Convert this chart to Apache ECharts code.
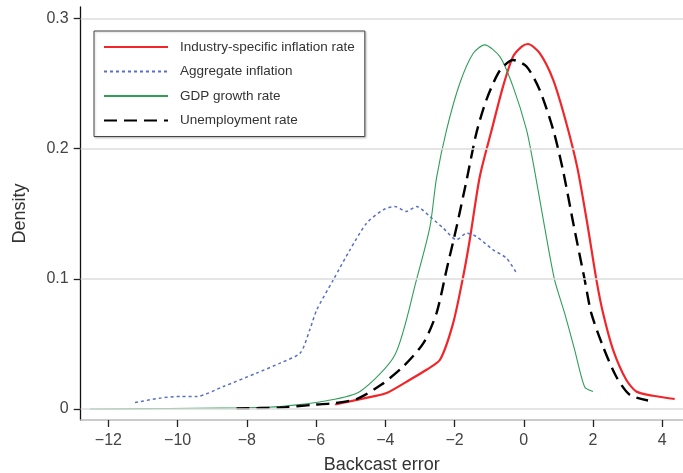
<!DOCTYPE html>
<html>
<head>
<meta charset="utf-8">
<script src="https://cdn.jsdelivr.net/npm/echarts@6/dist/echarts.min.js"></script>
<style>
  html, body { margin: 0; padding: 0; background: #fff; }
  #chart { width: 683px; height: 473px; }
</style>
</head>
<body>
<div id="chart"></div>
<script>
// Kernel density estimates of backcast errors, one [error, density] list per predictor
const seriesNames = [
  'Industry-specific inflation rate',
  'Aggregate inflation',
  'GDP growth rate',
  'Unemployment rate'
];

const industryInflation = [
  [-5.45, 0.0035], [-4.35, 0.0097], [-3.96, 0.0123], [-3.29, 0.0225], [-2.81, 0.0302],
  [-2.42, 0.0378], [-2.04, 0.066], [-1.75, 0.1018], [-1.56, 0.13], [-1.27, 0.1785],
  [-0.93, 0.214], [-0.6, 0.2476], [-0.31, 0.2706], [-0.05, 0.2785], [0.12, 0.2803],
  [0.46, 0.2732], [0.85, 0.2527], [1.23, 0.2195], [1.55, 0.185], [1.85, 0.14],
  [2.1, 0.099], [2.29, 0.0737], [2.58, 0.0455], [2.96, 0.0225], [3.25, 0.0135],
  [3.73, 0.0102], [4.36, 0.0077]
];

const aggregateInflation = [
  [-11.23, 0.005], [-10.5, 0.0084], [-9.9, 0.0097], [-9.45, 0.0097], [-8.68, 0.0173],
  [-7.72, 0.0276], [-7.04, 0.0353], [-6.46, 0.043], [-6.18, 0.061], [-5.98, 0.0762],
  [-5.5, 0.0993], [-5.02, 0.1223], [-4.54, 0.1427], [-4.06, 0.153], [-3.72, 0.1555],
  [-3.39, 0.1517], [-3.1, 0.1555], [-2.71, 0.1478], [-2.33, 0.139], [-1.94, 0.13],
  [-1.65, 0.135], [-1.37, 0.1325], [-0.89, 0.1223], [-0.5, 0.1159], [-0.21, 0.1044]
];

const gdpGrowth = [
  [-12.53, 0.0], [-11, 0.0003], [-9.5, 0.0006], [-8, 0.001], [-7.04, 0.002],
  [-5.69, 0.0064], [-4.73, 0.0135], [-3.72, 0.0417], [-3.1, 0.0992], [-2.71, 0.14],
  [-2.52, 0.1775], [-2.23, 0.2144], [-1.85, 0.25], [-1.46, 0.2732], [-1.13, 0.2796],
  [-0.69, 0.2706], [-0.31, 0.2476], [0.08, 0.2144], [0.3, 0.185], [0.6, 0.14],
  [0.89, 0.0992], [1.18, 0.0737], [1.47, 0.0455], [1.76, 0.0169], [2.0, 0.0135]
];

const unemployment = [
  [-8.3, 0.0005], [-7.04, 0.0012], [-6.08, 0.0033], [-5.5, 0.0045], [-4.83, 0.0077],
  [-4.1, 0.019], [-3.48, 0.0327], [-2.9, 0.0506], [-2.52, 0.0737], [-2.23, 0.107],
  [-1.94, 0.14], [-1.65, 0.176], [-1.37, 0.2118], [-1.08, 0.2374], [-0.69, 0.26],
  [-0.31, 0.268], [0.08, 0.263], [0.46, 0.245], [0.85, 0.2145], [1.13, 0.1837],
  [1.45, 0.14], [1.76, 0.0992], [1.95, 0.0737], [2.29, 0.048], [2.67, 0.025],
  [3.06, 0.011], [3.59, 0.0066]
];

const xTicks = [-12, -10, -8, -6, -4, -2, 0, 2, 4];
const yTicks = [0, 0.1, 0.2, 0.3];

const FONT = '"Liberation Sans", Arial, Helvetica, sans-serif';
const chart = echarts.init(document.getElementById('chart'), null, { renderer: 'canvas' });

function lineSeries(name, data, color, width, type) {
  return {
    name: name,
    type: 'line',
    data: data,
    showSymbol: false,
    symbol: 'none',
    smooth: 0.25,
    z: 3,
    lineStyle: { color: color, width: width, type: type },
    itemStyle: { color: color }
  };
}

chart.setOption({
  animation: false,
  backgroundColor: '#fff',
  textStyle: { fontFamily: FONT },
  grid: { left: 80.7, right: 0, top: 7, bottom: 53, containLabel: false, outerBoundsMode: 'none' },
  xAxis: {
    type: 'value',
    min: -12.8,
    max: 4.6,
    name: 'Backcast error',
    nameLocation: 'middle',
    nameGap: 36,
    nameTextStyle: { fontFamily: FONT, fontSize: 18, color: '#333' },
    axisLine: { show: true, onZero: false, lineStyle: { color: '#bbb', width: 1.5 } },
    axisTick: { show: true, length: 7, customValues: xTicks, lineStyle: { color: '#222', width: 1.3 } },
    axisLabel: {
      customValues: xTicks,
      margin: 13,
      fontSize: 16,
      color: '#444',
      fontFamily: FONT,
      formatter: v => String(v).replace('-', '\u2212')
    },
    splitLine: { show: false }
  },
  yAxis: {
    type: 'value',
    min: -0.0084,
    max: 0.3087,
    name: 'Density',
    nameLocation: 'middle',
    nameGap: 52,
    nameRotate: 90,
    nameTextStyle: { fontFamily: FONT, fontSize: 18, color: '#333' },
    axisLine: { show: true, onZero: false, lineStyle: { color: '#111', width: 1.3 } },
    axisTick: { show: true, length: 7, customValues: yTicks, lineStyle: { color: '#222', width: 1.3 } },
    axisLabel: {
      customValues: yTicks,
      margin: 12,
      fontSize: 16,
      color: '#444',
      fontFamily: FONT,
      formatter: v => (v === 0 ? '0' : v.toFixed(1))
    },
    splitLine: { show: false }
  },
  legend: {
    data: seriesNames,
    orient: 'vertical',
    left: 94,
    top: 31,
    padding: [9, 10, 9, 9],
    itemWidth: 64,
    itemHeight: 14,
    itemGap: 10.5,
    borderColor: '#444',
    borderWidth: 1,
    backgroundColor: '#fff',
    shadowColor: 'rgba(0,0,0,0.2)',
    shadowBlur: 2,
    shadowOffsetX: 1,
    shadowOffsetY: 1,
    itemStyle: { opacity: 0 },
    textStyle: { fontFamily: FONT, fontSize: 13.5, color: '#333', padding: [0, 0, 0, 7] }
  },
  series: [
    {
      name: 'grid',
      type: 'line',
      data: [],
      z: 1,
      silent: true,
      markLine: {
        silent: true,
        symbol: 'none',
        label: { show: false },
        lineStyle: { color: '#dcdcdc', width: 1.5, type: 'solid' },
        data: yTicks.map(v => ({ yAxis: v }))
      }
    },
    lineSeries(seriesNames[0], industryInflation, '#f2262a', 2.2, 'solid'),
    lineSeries(seriesNames[1], aggregateInflation, '#5a6fc6', 1.5, [3, 3]),
    lineSeries(seriesNames[2], gdpGrowth, '#2f9e5a', 1.1, 'solid'),
    lineSeries(seriesNames[3], unemployment, '#000', 2.4, [13, 7])
  ]
});
</script>
</body>
</html>
